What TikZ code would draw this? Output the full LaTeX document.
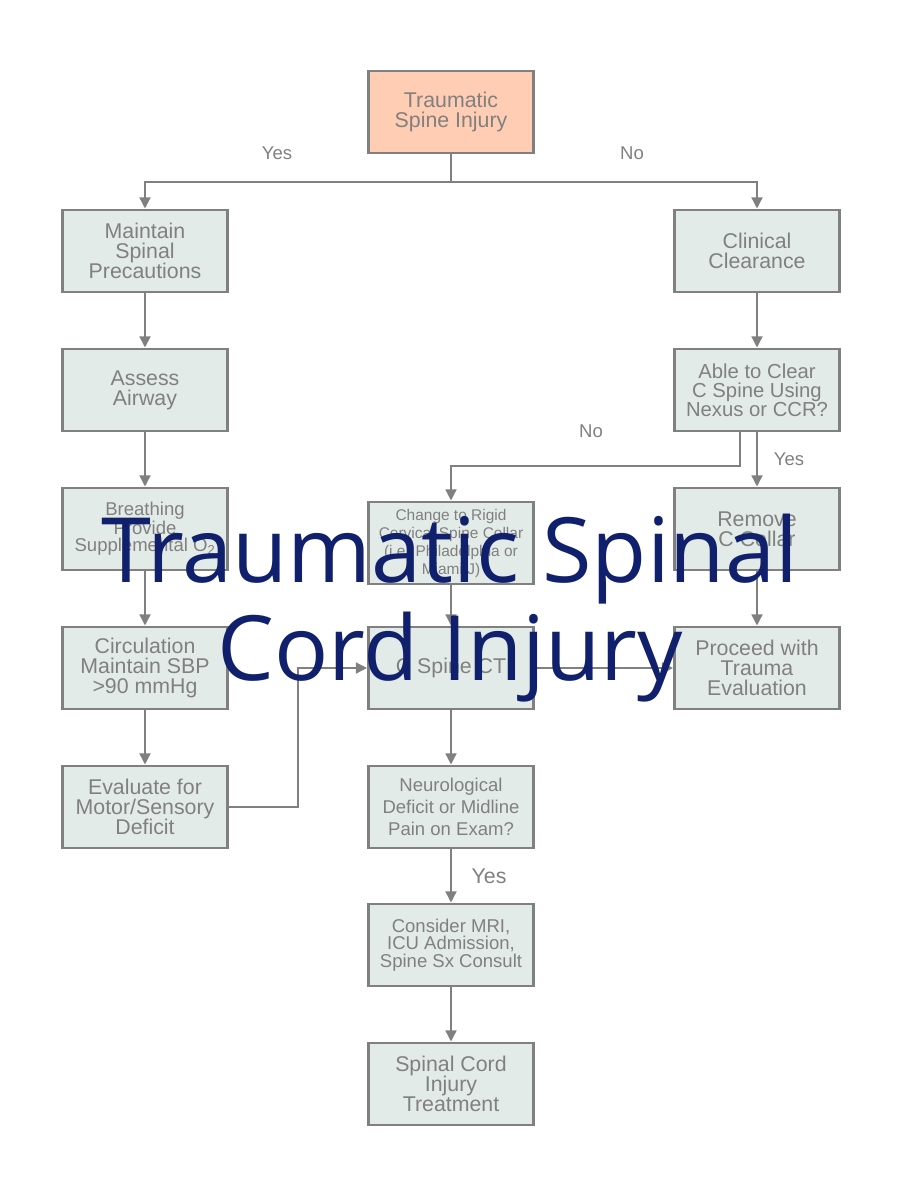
\documentclass[tikz,border=0pt]{standalone}
\usepackage{fontspec}
\setmainfont{Liberation Sans}
\newfontfamily\titlefont{Open Sans}
\usetikzlibrary{arrows.meta}

\definecolor{boxfill}{RGB}{227,235,232}
\definecolor{rootfill}{RGB}{255,205,179}
\definecolor{edgegray}{RGB}{128,128,128}
\definecolor{navy}{RGB}{16,32,108}

\tikzset{
  box/.style={draw=edgegray, line width=2pt, fill=boxfill, text=edgegray,
    minimum width=123.75pt, minimum height=61.5pt, inner sep=0pt, align=center,
    font=\fontsize{16}{15}\selectfont},
  rootbox/.style={box, fill=rootfill},
  flow/.style={draw=edgegray, line width=2pt, -{Triangle[length=8.5pt,width=8pt]}},
  plain/.style={draw=edgegray, line width=2pt},
  yesno/.style={text=edgegray, font=\fontsize{13.9}{13.9}\selectfont},
  titletext/.style={text=navy, align=center, font=\titlefont\fontsize{67.6}{73}\selectfont}
}

\begin{document}
\begin{tikzpicture}[x=0.75pt,y=-0.75pt]
			\useasboundingbox (0,0) rectangle (900,1200);
			% boxes
			\node[rootbox] (injury) at (451,112) {Traumatic\\Spine Injury};
			\node[box] (precaution) at (145,251) {Maintain\\Spinal\\Precautions};
			\node[box] (clearance) at (757,251) {Clinical\\Clearance};
			\node[box] (airway) at (145,390) {Assess\\Airway};
			\node[box, font=\fontsize{15.2}{14.25}\selectfont] (nexus) at (757,390) {Able to Clear\\C Spine Using\\Nexus or CCR?};
			\node[box, font=\fontsize{13.9}{12.75}\selectfont] (breathing) at (145,529) {Breathing\\Provide\\Supplemental O\textsubscript{2}};
			\node[box, font=\fontsize{11.6}{13.5}\selectfont] (collar) at (451,543) {Change to Rigid\\Cervical Spine Collar\\(i.e. Philadelphia or\\Miami J)};
			\node[box] (remove) at (757,529) {Remove\\C Collar};
			\node[box] (circulation) at (145,668) {Circulation\\Maintain SBP\\>90 mmHg};
			\node[box] (ct) at (451,668) {C Spine CT};
			\node[box] (trauma) at (757,668) {Proceed with\\Trauma\\Evaluation};
			\node[box] (motor) at (145,807) {Evaluate for\\Motor/Sensory\\Deficit};
			\node[box, font=\fontsize{13.9}{16.5}\selectfont] (neuro) at (451,807) {Neurological\\Deficit or Midline\\Pain on Exam?};
			\node[box, font=\fontsize{13.9}{13.1}\selectfont] (mri) at (451,945) {Consider MRI,\\ICU Admission,\\Spine Sx Consult};
			\node[box] (treatment) at (451,1084) {Spinal Cord\\Injury\\Treatment};
			% junctions
			\coordinate (split) at (451,182);
			\coordinate (nojog) at (740,466);
			\coordinate (ctjog) at (298,668);
			% connectors
			\draw[plain] (injury) -- (split);
			\draw[flow] (split) -| (precaution);
			\draw[flow] (split) -| (clearance);
			\draw[flow] (precaution) -- (airway);
			\draw[flow] (airway) -- (breathing);
			\draw[flow] (breathing) -- (circulation);
			\draw[flow] (circulation) -- (motor);
			\draw[flow] (motor.east) -| (ctjog) -- (ct.west);
			\draw[flow] (clearance) -- (nexus);
			\draw[flow] (nexus) -- (remove);
			\draw[flow] (nojog |- nexus.south) -- (nojog) -| (collar.north);
			\draw[flow] (remove) -- (trauma);
			\draw[flow] (collar) -- (ct);
			\draw[flow] (ct) -- (trauma);
			\draw[flow] (ct) -- (neuro);
			\draw[flow] (neuro) -- (mri);
			\draw[flow] (mri) -- (treatment);
			% labels
			\node[yesno] (yesleft) at (277,153) {Yes};
			\node[yesno] (noright) at (632,153) {No};
			\node[yesno] (nocollar) at (591,431) {No};
			\node[yesno] (yesremove) at (789,459) {Yes};
			\node[yesno, font=\fontsize{16}{16}\selectfont] (yesmri) at (489,876) {Yes};
			% title
			\node[titletext] (title) at (450,608) {Traumatic Spinal\\Cord Injury};
		\end{tikzpicture}
\end{document}
